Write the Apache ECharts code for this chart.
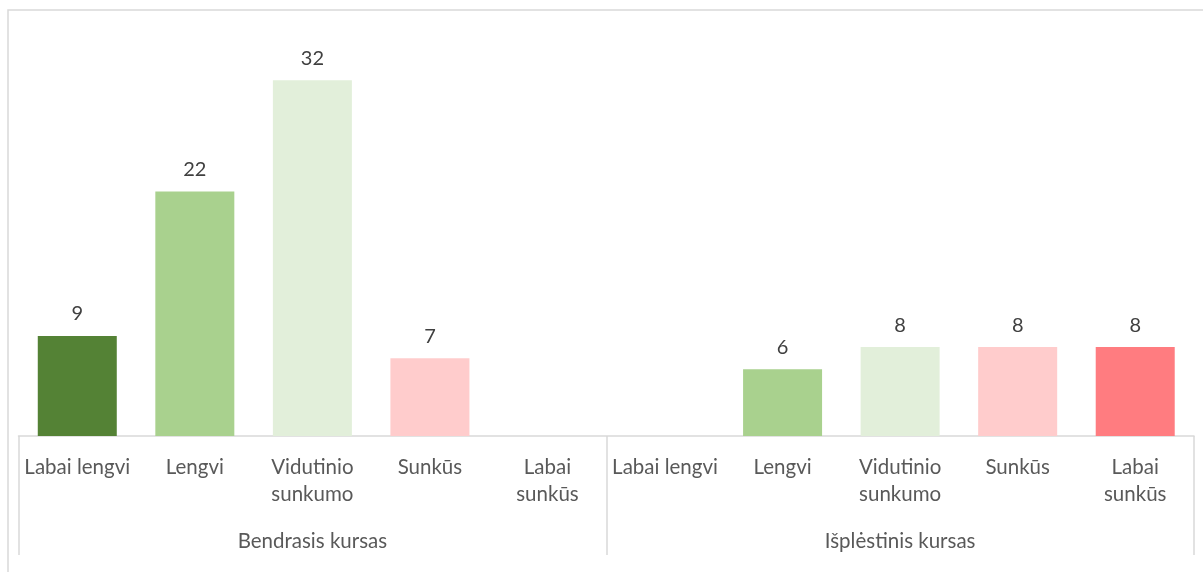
<!DOCTYPE html>
<html>
<head>
<meta charset="utf-8">
<script src="https://cdn.jsdelivr.net/npm/echarts@6/dist/echarts.min.js"></script>
<style>
html,body{margin:0;padding:0;background:#fff;}
#c{width:1203px;height:572px;}
</style>
</head>
<body>
<div id="c"></div>
<script>
const categories = ['Labai lengvi','Lengvi','Vidutinio\nsunkumo','Sunkūs','Labai\nsunkūs',
                    'Labai lengvi','Lengvi','Vidutinio\nsunkumo','Sunkūs','Labai\nsunkūs'];
const groups = ['Bendrasis kursas','Išplėstinis kursas'];
const values = [9, 22, 32, 7, null, null, 6, 8, 8, 8];
const levelColors = ['#548235','#A9D18E','#E2EFDA','#FFCCCC','#FF7C80'];

const chart = echarts.init(document.getElementById('c'), null, {renderer:'canvas'});
const fontFam = 'Lato, "Open Sans", sans-serif';
chart.setOption({
  animation:false,
  graphic:[{type:'rect', shape:{x:8,y:10,width:1220,height:600}, style:{fill:'none', stroke:'#D9D9D9', lineWidth:1.5}, z:-1}],
  grid:{left:18.5, right:9, top:47, bottom:136},
  xAxis:[{
    type:'category', data:categories, position:'bottom',
    axisLine:{lineStyle:{color:'#D9D9D9', width:1.5}},
    axisTick:{show:false},
    axisLabel:{interval:0, color:'#595959', fontFamily:fontFam, fontSize:20.5, lineHeight:27, margin:18}
  },{
    type:'category', data:groups, position:'bottom', boundaryGap:true,
    axisLine:{show:false},
    axisTick:{show:true, length:119, lineStyle:{color:'#D9D9D9', width:1.5}},
    axisLabel:{color:'#595959', fontFamily:fontFam, fontSize:20.5, margin:95}
  }],
  yAxis:{type:'value', min:0, max:35, show:false, splitLine:{show:false}},
  series:[{
    type:'bar', xAxisIndex:0, barWidth:79,
    data: values.map((v,i)=>({value:v, itemStyle:{color:levelColors[i%5]}})),
    label:{show:true, position:'top', distance:12, color:'#404040', fontFamily:fontFam, fontSize:20,
      formatter:p=> (p.value==null?'':p.value)}
  }]
});
</script>
</body>
</html>
